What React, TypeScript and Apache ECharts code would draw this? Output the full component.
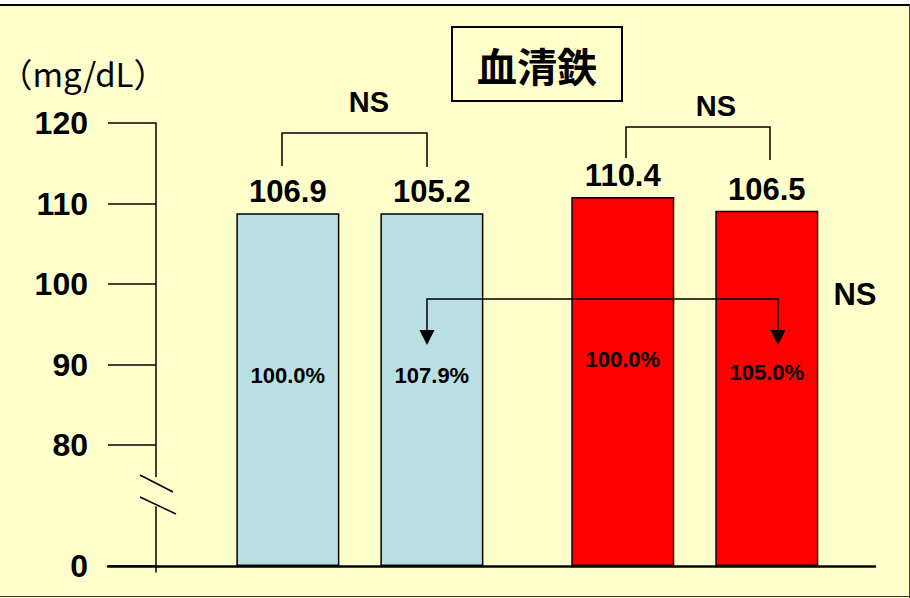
import React, { useEffect, useRef } from 'react';
import * as echarts from 'echarts';

// ---- data ----
const groups = ['A群', 'B群'];
const periods = ['前', '後'];
const barHeights = [
  [108.8, 108.8],
  [110.8, 109.1],
]; // drawn bar tops, mg/dL
const meanLabels = ['106.9', '105.2', '110.4', '106.5'];
const ratioLabels = ['100.0%', '107.9%', '100.0%', '105.0%'];
const yTickValues = [0, 80, 90, 100, 110, 120];
const sigLabels = ['NS', 'NS', 'NS'];
const chartTitle = '血清鉄';
const unitLabel = '（mg/dL）';

// ---- styles / layout ----
const BG = '#FFFFCC';
const GROUP_COLORS = ['#B9DEE3', '#FF0000'];
const BREAK_AT = 80;
const BREAK_SPAN = 15;
const toAxis = (v: number) => (v >= BREAK_AT ? v - BREAK_AT + BREAK_SPAN : (v * BREAK_SPAN) / BREAK_AT);
const fromAxis = (t: number) => (t >= BREAK_SPAN ? t - BREAK_SPAN + BREAK_AT : (t * BREAK_AT) / BREAK_SPAN);
const X_MIN = 0.248;
const X_MAX = 2.538;
const SLOT = 0.215;
const SANS = "'Liberation Sans', Arial, sans-serif";
const CJK = "'Noto Sans CJK JP', sans-serif";
const TOP_Z = 100;

export default function App() {
  const ref = useRef<HTMLDivElement>(null);

  useEffect(() => {
    if (!ref.current) return;
    const chart = echarts.init(ref.current, undefined, { renderer: 'svg' });

    const points: { x: number; t: number; g: number }[] = [];
    groups.forEach((_, g) => {
      periods.forEach((__, p) => {
        points.push({ x: g + 1 + (p === 0 ? -SLOT : SLOT), t: toAxis(barHeights[g][p]), g });
      });
    });
    const tickAxisValues = yTickValues.map(toAxis);

    const line = (pts: number[][], w = 1.5) => ({
      type: 'polyline',
      z: TOP_Z,
      shape: { points: pts },
      style: { stroke: '#000', lineWidth: w, fill: 'none' },
      silent: true,
    });
    const text = (t: string, x: number, y: number, font: string) => ({
      type: 'text',
      z: TOP_Z + 1,
      x,
      y,
      style: { text: t, font, fill: '#000', align: 'center', verticalAlign: 'middle' },
      silent: true,
    });

    chart.setOption({
      animation: false,
      backgroundColor: BG,
      grid: { left: 108, right: 35, top: 123, bottom: 26, containLabel: false, outerBoundsMode: 'none' },
      xAxis: {
        type: 'value',
        min: X_MIN,
        max: X_MAX,
        axisLine: { show: true, onZero: true, lineStyle: { color: '#000', width: 2.5 } },
        axisTick: { show: false },
        axisLabel: { show: false },
        splitLine: { show: false },
      },
      yAxis: {
        type: 'value',
        min: -0.75,
        max: 55,
        offset: -48,
        name: unitLabel,
        nameLocation: 'end',
        nameGap: 50,
        nameTextStyle: {
          fontFamily: CJK,
          fontSize: 33,
          color: '#000',
          align: 'center',
          verticalAlign: 'middle',
          padding: [0, 146, 0, 0],
        },
        axisLine: { show: true, onZero: false, lineStyle: { color: '#000', width: 1.5 } },
        axisTick: { show: true, length: 48, customValues: tickAxisValues, lineStyle: { color: '#000', width: 1.5 } },
        axisLabel: {
          customValues: tickAxisValues,
          margin: 68,
          color: '#000',
          fontSize: 32,
          fontWeight: 'bold',
          fontFamily: SANS,
          formatter: (v: number) => String(Math.round(fromAxis(v))),
        },
        splitLine: { show: false },
      },
      series: [
        {
          type: 'bar',
          barWidth: 103,
          data: points.map((p) => ({
            value: [p.x, p.t],
            itemStyle: { color: GROUP_COLORS[p.g] },
          })),
          itemStyle: { borderColor: '#000', borderWidth: 1.5 },
          label: {
            show: true,
            position: 'insideTop',
            distance: 151,
            color: '#000',
            fontSize: 22,
            fontWeight: 'bold',
            fontFamily: SANS,
            formatter: (p: any) => ratioLabels[p.dataIndex],
          },
          silent: true,
        },
        {
          type: 'scatter',
          symbolSize: 0,
          itemStyle: { opacity: 1, color: '#000' },
          data: points.map((p) => [p.x, p.t]),
          label: {
            show: true,
            position: 'top',
            distance: 6,
            color: '#000',
            opacity: 1,
            fontSize: 31,
            fontWeight: 'bold',
            fontFamily: SANS,
            formatter: (p: any) => meanLabels[p.dataIndex],
          },
          silent: true,
        },
      ],
      graphic: [
        // frame
        { type: 'rect', z: TOP_Z, shape: { x: 0, y: 0, width: 910, height: 4 }, style: { fill: '#FFFFFF' }, silent: true },
        line([[0, 5], [910, 5]], 2),
        { type: 'line', z: TOP_Z, shape: { x1: 909.5, y1: 5, x2: 909.5, y2: 598 }, style: { stroke: '#444', lineWidth: 1 }, silent: true },
        { type: 'line', z: TOP_Z, shape: { x1: 0, y1: 596.5, x2: 910, y2: 596.5 }, style: { stroke: '#333', lineWidth: 1 }, silent: true },
        // axis break
        { type: 'rect', z: TOP_Z, shape: { x: 152, y: 477, width: 8, height: 29.5 }, style: { fill: BG }, silent: true },
        line([[140, 475], [173, 492]]),
        line([[140, 497], [176, 514]]),
        // title box
        {
          type: 'rect',
          z: TOP_Z,
          shape: { x: 452, y: 27, width: 170, height: 74 },
          style: { fill: BG, stroke: '#000', lineWidth: 2 },
          silent: true,
        },
        text(chartTitle, 537, 65, `bold 40px ${CJK}`),
        // brackets
        line([[282, 166], [282, 133], [427, 133], [427, 167]]),
        text(sigLabels[0], 369, 102, `bold 29px ${SANS}`),
        line([[626, 158], [626, 127], [770, 127], [770, 160]]),
        text(sigLabels[1], 716, 106, `bold 29px ${SANS}`),
        // arrow
        line([[427, 331], [427, 299], [778, 299], [778, 331]]),
        { type: 'polygon', z: TOP_Z, shape: { points: [[419.5, 330], [434.5, 330], [427, 345]] }, style: { fill: '#000' }, silent: true },
        { type: 'polygon', z: TOP_Z, shape: { points: [[770.5, 330], [785.5, 330], [778, 345]] }, style: { fill: '#000' }, silent: true },
        text(sigLabels[2], 855, 294, `bold 31px ${SANS}`),
      ],
    });

    return () => chart.dispose();
  }, []);

  return (
    <div
      ref={ref}
      style={{ position: 'fixed', left: 0, top: 0, width: 910, height: 598, background: BG }}
    />
  );
}
